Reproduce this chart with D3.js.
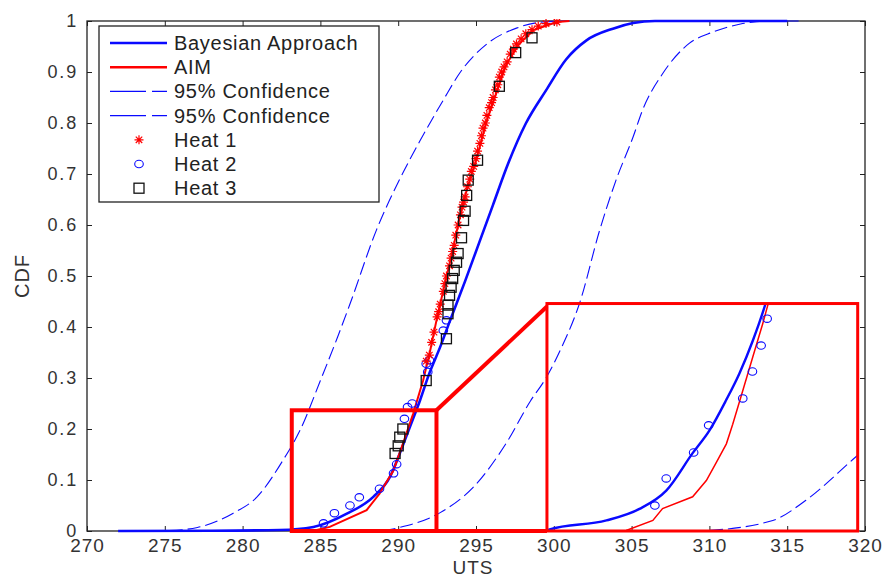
<!DOCTYPE html>
<html>
<head>
<meta charset="utf-8">
<script src="https://cdn.jsdelivr.net/npm/d3@7"></script>
<style>
  html, body { margin: 0; padding: 0; background: #fff; }
  svg { display: block; font-family: "Liberation Sans", Arial, sans-serif; }
</style>
</head>
<body>
<svg id="chart" width="883" height="579"></svg>
<script>
// ---------- DATA ----------
const xTicks = [270, 275, 280, 285, 290, 295, 300, 305, 310, 315, 320];
const yTicks = [0, 0.1, 0.2, 0.3, 0.4, 0.5, 0.6, 0.7, 0.8, 0.9, 1];
const legendLabels = ["Bayesian Approach", "AIM", "95% Confidence", "95% Confidence", "Heat 1", "Heat 2", "Heat 3"];

const bayesX = [272, 278, 282.4, 284.55, 286.7, 288.4, 289.47, 290.1, 290.75, 291.4, 292.0, 292.7, 293.3, 294.3, 295.2, 296.1, 297.06, 298.2, 299.5, 300.8, 302.1, 303.8, 305.1, 306.5, 315];
const bayesY = [0, 0.0005, 0.002, 0.008, 0.034, 0.067, 0.106, 0.152, 0.204, 0.256, 0.309, 0.361, 0.41, 0.49, 0.565, 0.64, 0.72, 0.799, 0.864, 0.925, 0.962, 0.985, 0.996, 1, 1];

const aimX = [284.5, 285.6, 287.97, 288.8, 289.7, 290.3, 290.96, 291.6, 292.03, 292.46, 292.9, 293.5, 293.96, 294.4, 295.0, 295.7, 296.3, 296.96, 297.8, 298.7, 300.2, 301];
const aimY = [0, 0.008, 0.041, 0.073, 0.119, 0.171, 0.23, 0.295, 0.35, 0.413, 0.472, 0.55, 0.616, 0.668, 0.727, 0.805, 0.858, 0.916, 0.956, 0.982, 0.998, 1];

const confLowX = [273, 275.3, 277.1, 279.4, 280.9, 282.6, 283.7, 285, 286.1, 286.9, 288.6, 290.1, 291.4, 292.9, 294.0, 295.7, 297.6, 299.3, 301];
const confLowY = [0, 0.001, 0.007, 0.035, 0.066, 0.139, 0.198, 0.295, 0.38, 0.445, 0.59, 0.69, 0.765, 0.845, 0.9, 0.955, 0.986, 0.998, 1];

const confHighX = [289, 290.1, 292.7, 294.8, 297.0, 298.5, 299.5, 300.5, 301.65, 302.94, 304.0, 305.1, 305.7, 307.0, 308.7, 310.2, 312, 314, 316];
const confHighY = [0, 0.007, 0.036, 0.085, 0.175, 0.255, 0.3, 0.36, 0.446, 0.589, 0.688, 0.773, 0.825, 0.897, 0.956, 0.978, 0.994, 1, 1];

const heat1X = [291.8, 292.0, 292.15, 292.3, 292.5, 292.6, 292.7, 292.9, 293.0, 293.1, 293.3, 293.4, 293.5, 293.6, 293.7, 293.85, 294.0, 294.1, 294.2, 294.3, 294.45, 294.6, 294.7, 294.85, 295.0, 295.1, 295.25, 295.35, 295.45, 295.6, 295.7, 295.85, 296.0, 296.1, 296.25, 296.4, 296.5, 296.65, 296.8, 297.0, 297.2, 297.4, 297.6, 297.9, 298.2, 298.6, 299.0, 299.5, 300.2];
const heat1Y = [0.333, 0.345, 0.37, 0.39, 0.42, 0.43, 0.445, 0.47, 0.485, 0.5, 0.52, 0.535, 0.548, 0.56, 0.58, 0.6, 0.62, 0.635, 0.645, 0.655, 0.675, 0.69, 0.705, 0.715, 0.73, 0.745, 0.76, 0.775, 0.79, 0.8, 0.815, 0.83, 0.84, 0.85, 0.865, 0.875, 0.89, 0.9, 0.91, 0.92, 0.935, 0.945, 0.955, 0.965, 0.975, 0.983, 0.99, 0.995, 0.998];

const heat2X = [285.2, 285.9, 286.9, 287.5, 288.8, 289.7, 289.9, 290.4, 290.6, 290.9, 291.9, 291.8, 292.0, 292.9, 293.1];
const heat2Y = [0.015, 0.035, 0.05, 0.066, 0.083, 0.113, 0.131, 0.22, 0.243, 0.25, 0.312, 0.328, 0.335, 0.393, 0.413];

const heat3X = [289.8, 290.0, 290.1, 290.3, 291.8, 293.1, 293.2, 293.2, 293.3, 293.4, 293.5, 293.6, 293.75, 293.85, 294.07, 294.2, 294.3, 294.4, 294.5, 295.1, 296.5, 297.55, 298.6];
const heat3Y = [0.152, 0.167, 0.184, 0.2, 0.295, 0.377, 0.426, 0.443, 0.462, 0.478, 0.495, 0.511, 0.527, 0.544, 0.575, 0.609, 0.627, 0.658, 0.688, 0.727, 0.872, 0.938, 0.967];

// zoom window (source box) and where it is magnified (inset box)
const zoomBoxX = [283.16, 292.46];
const zoomBoxY = [0, 0.2367];
const insetBoxX = [299.56, 319.53];
const insetBoxY = [0, 0.446];

// magnified view content (in UTS / CDF units of the zoom window)
const zoomBayesX = [283.16, 283.24, 284.94, 285.93, 286.73, 287.52, 288.03, 288.52, 288.92, 289.32, 289.67, 289.9];
const zoomBayesY = [0, 0.0016, 0.011, 0.023, 0.042, 0.081, 0.105, 0.136, 0.164, 0.198, 0.233, 0.26];
const zoomAimX = [285.0, 285.53, 286.33, 286.62, 287.52, 287.93, 288.21, 288.53, 288.72, 289.02, 289.32, 289.62, 289.77, 289.9];
const zoomAimY = [0, 0.0005, 0.011, 0.0233, 0.0356, 0.0525, 0.07, 0.0907, 0.111, 0.146, 0.181, 0.216, 0.235, 0.25];
const zoomConfX = [287.5, 287.93, 289.92, 290.91, 292.4, 292.7];
const zoomConfY = [0, 0.0005, 0.011, 0.032, 0.077, 0.086];
const zoomHeat2X = [286.39, 286.73, 287.55, 288.0, 289.02, 289.31, 289.57, 289.75];
const zoomHeat2Y = [0.0265, 0.0547, 0.0817, 0.110, 0.138, 0.166, 0.193, 0.221];

// ---------- CHART ----------
const svg = d3.select("#chart");
const L = 87, R = 865, T = 21, B = 531;
const x = d3.scaleLinear().domain([270, 320]).range([L, R]);
const y = d3.scaleLinear().domain([0, 1]).range([B, T]);

const BLUE = "#0a0aff", RED = "#ff0000", TXT = "#333";
const DASH = "13,5";
const zip = (xs, ys) => xs.map((v, i) => [v, ys[i]]);

svg.append("rect").attr("width", 883).attr("height", 579).attr("fill", "#fff");

const defs = svg.append("defs");
defs.append("clipPath").attr("id", "plotClip").append("rect")
  .attr("x", L).attr("y", T - 2).attr("width", R - L).attr("height", B - T + 4);

// inset scales
const ix = d3.scaleLinear().domain(zoomBoxX).range([x(insetBoxX[0]), x(insetBoxX[1])]);
const iy = d3.scaleLinear().domain(zoomBoxY).range([y(insetBoxY[0]), y(insetBoxY[1])]);
defs.append("clipPath").attr("id", "insetClip").append("rect")
  .attr("x", x(insetBoxX[0])).attr("y", y(insetBoxY[1]))
  .attr("width", x(insetBoxX[1]) - x(insetBoxX[0])).attr("height", y(insetBoxY[0]) - y(insetBoxY[1]));

// axes (ticks inward on all four sides)
function styleAxis(g, labels) {
  g.select(".domain").remove();
  g.selectAll(".tick line").attr("stroke", "#222").attr("stroke-width", 1);
  if (!labels) g.selectAll(".tick text").remove();
}
const fmtY = d => (d === 0 ? "0" : d === 1 ? "1" : d3.format(".1f")(d));
svg.append("g").attr("transform", `translate(0,${B})`)
  .call(d3.axisBottom(x).tickValues(xTicks).tickSize(-5).tickPadding(8).tickFormat(d3.format("d")))
  .call(g => styleAxis(g, true))
  .call(g => g.selectAll(".tick text").attr("fill", TXT).style("font-size", "19px").style("letter-spacing", "1px"));
svg.append("g").attr("transform", `translate(0,${T})`)
  .call(d3.axisTop(x).tickValues(xTicks).tickSize(-5)).call(g => styleAxis(g, false));
svg.append("g").attr("transform", `translate(${L},0)`)
  .call(d3.axisLeft(y).tickValues(yTicks).tickSize(-5).tickPadding(9).tickFormat(fmtY))
  .call(g => styleAxis(g, true))
  .call(g => g.selectAll(".tick text").attr("fill", TXT).style("font-size", "18px").style("letter-spacing", "1.8px"));
svg.append("g").attr("transform", `translate(${R},0)`)
  .call(d3.axisRight(y).tickValues(yTicks).tickSize(-5)).call(g => styleAxis(g, false));

svg.append("rect").attr("x", L).attr("y", T).attr("width", R - L).attr("height", B - T)
  .attr("fill", "none").attr("stroke", "#222").attr("stroke-width", 1.3);

// axis titles
svg.append("text").attr("x", 473).attr("y", 574).attr("text-anchor", "middle")
  .attr("fill", TXT).style("font-size", "19px").style("letter-spacing", "1px").text("UTS");
svg.append("text").attr("transform", "translate(29,276) rotate(-90)").attr("text-anchor", "middle")
  .attr("fill", TXT).style("font-size", "20px").style("letter-spacing", "1px").text("CDF");

// main curves
const smooth = d3.line().x(d => x(d[0])).y(d => y(d[1])).curve(d3.curveMonotoneX);
const straight = d3.line().x(d => x(d[0])).y(d => y(d[1]));
const plot = svg.append("g").attr("clip-path", "url(#plotClip)");

plot.append("path").attr("d", smooth(zip(confLowX, confLowY))).attr("fill", "none")
  .attr("stroke", BLUE).attr("stroke-width", 1.1).attr("stroke-dasharray", DASH);
plot.append("path").attr("d", smooth(zip(confHighX, confHighY))).attr("fill", "none")
  .attr("stroke", BLUE).attr("stroke-width", 1.1).attr("stroke-dasharray", DASH);
plot.append("path").attr("d", smooth(zip(bayesX, bayesY))).attr("fill", "none")
  .attr("stroke", BLUE).attr("stroke-width", 2.6);
plot.append("path").attr("d", straight(zip(aimX, aimY))).attr("fill", "none")
  .attr("stroke", RED).attr("stroke-width", 2);

// marker helpers
function starPath(cx, cy, r) {
  const d = r * 0.72;
  return `M${cx - r},${cy}L${cx + r},${cy}M${cx},${cy - r}L${cx},${cy + r}` +
         `M${cx - d},${cy - d}L${cx + d},${cy + d}M${cx - d},${cy + d}L${cx + d},${cy - d}`;
}
function drawStars(g, pts, sx, sy) {
  g.selectAll(null).data(pts).enter().append("path")
    .attr("d", d => starPath(sx(d[0]), sy(d[1]), 4.5))
    .attr("stroke", RED).attr("stroke-width", 1.2).attr("fill", "none");
}
function drawCircles(g, pts, sx, sy) {
  g.selectAll(null).data(pts).enter().append("ellipse")
    .attr("cx", d => sx(d[0])).attr("cy", d => sy(d[1])).attr("rx", 4.3).attr("ry", 3.7)
    .attr("fill", "none").attr("stroke", BLUE).attr("stroke-width", 1.1);
}
function drawSquares(g, pts, sx, sy) {
  g.selectAll(null).data(pts).enter().append("rect")
    .attr("x", d => sx(d[0]) - 5).attr("y", d => sy(d[1]) - 5).attr("width", 10).attr("height", 10)
    .attr("fill", "none").attr("stroke", "#111").attr("stroke-width", 1.3);
}
drawCircles(plot, zip(heat2X, heat2Y), x, y);
drawStars(plot, zip(heat1X, heat1Y), x, y);
drawSquares(plot, zip(heat3X, heat3Y), x, y);

// magnified inset content
const ismooth = d3.line().x(d => ix(d[0])).y(d => iy(d[1])).curve(d3.curveMonotoneX);
const istraight = d3.line().x(d => ix(d[0])).y(d => iy(d[1]));
const inset = svg.append("g").attr("clip-path", "url(#insetClip)");
inset.append("path").attr("d", ismooth(zip(zoomConfX, zoomConfY))).attr("fill", "none")
  .attr("stroke", BLUE).attr("stroke-width", 1.1).attr("stroke-dasharray", DASH);
inset.append("path").attr("d", ismooth(zip(zoomBayesX, zoomBayesY))).attr("fill", "none")
  .attr("stroke", BLUE).attr("stroke-width", 2.4);
inset.append("path").attr("d", istraight(zip(zoomAimX, zoomAimY))).attr("fill", "none")
  .attr("stroke", RED).attr("stroke-width", 1.5);
drawCircles(inset, zip(zoomHeat2X, zoomHeat2Y), ix, iy);

// magnifier boxes and connectors
svg.append("rect")
  .attr("x", x(zoomBoxX[0])).attr("y", y(zoomBoxY[1]))
  .attr("width", x(zoomBoxX[1]) - x(zoomBoxX[0])).attr("height", y(zoomBoxY[0]) - y(zoomBoxY[1]))
  .attr("fill", "none").attr("stroke", RED).attr("stroke-width", 4);
svg.append("rect")
  .attr("x", x(insetBoxX[0])).attr("y", y(insetBoxY[1]))
  .attr("width", x(insetBoxX[1]) - x(insetBoxX[0])).attr("height", y(insetBoxY[0]) - y(insetBoxY[1]))
  .attr("fill", "none").attr("stroke", RED).attr("stroke-width", 3);
svg.append("line")
  .attr("x1", x(zoomBoxX[1])).attr("y1", y(zoomBoxY[1]))
  .attr("x2", x(insetBoxX[0])).attr("y2", y(insetBoxY[1]) + 3)
  .attr("stroke", RED).attr("stroke-width", 4);
svg.append("line")
  .attr("x1", x(zoomBoxX[1])).attr("y1", y(zoomBoxY[0]))
  .attr("x2", x(insetBoxX[0])).attr("y2", y(insetBoxY[0]))
  .attr("stroke", RED).attr("stroke-width", 4);

// legend
const lg = svg.append("g");
lg.append("rect").attr("x", 99).attr("y", 26).attr("width", 280).attr("height", 176)
  .attr("fill", "#fff").attr("stroke", "#222").attr("stroke-width", 1.3);
const rowY = i => 43 + i * 24.2;
legendLabels.forEach((lab, i) => {
  const cy = rowY(i);
  if (i < 4) {
    const ln = lg.append("line").attr("x1", 110).attr("x2", 167).attr("y1", cy).attr("y2", cy)
      .attr("stroke", i === 1 ? RED : BLUE).attr("stroke-width", i < 2 ? 2.6 : 1.1);
    if (i >= 2) ln.attr("stroke-dasharray", "36,6");
  }
  lg.append("text").attr("x", 174).attr("y", cy + 7).attr("fill", "#222")
    .style("font-size", "20px").style("letter-spacing", "0.7px").text(lab);
});
drawStars(lg, [[139, rowY(4)]], d => d, d => d);
drawCircles(lg, [[139, rowY(5)]], d => d, d => d);
drawSquares(lg, [[139, rowY(6)]], d => d, d => d);
</script>
</body>
</html>
